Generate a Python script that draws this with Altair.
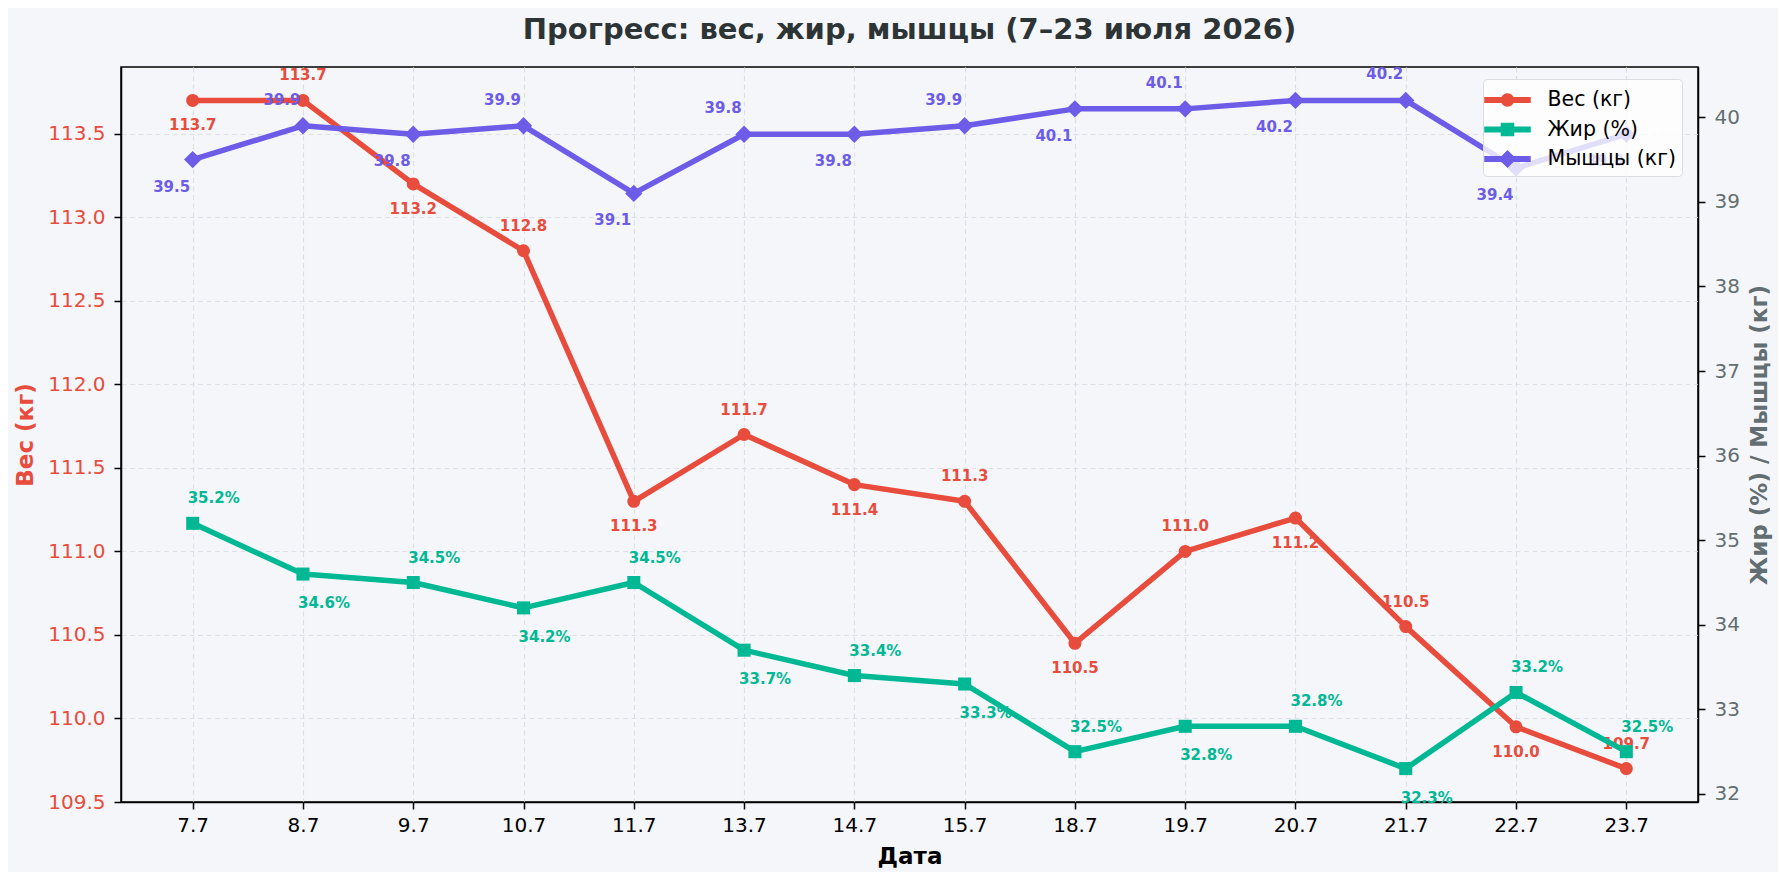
import altair as alt
import pandas as pd

# ---------------- data ----------------
dates = ["7.7", "8.7", "9.7", "10.7", "11.7", "13.7", "14.7", "15.7",
         "18.7", "19.7", "20.7", "21.7", "22.7", "23.7"]
weight = [113.7, 113.7, 113.2, 112.8, 111.3, 111.7, 111.4, 111.3,
          110.45, 111.0, 111.2, 110.55, 109.95, 109.7]
fat = [35.2, 34.6, 34.5, 34.2, 34.5, 33.7, 33.4, 33.3,
       32.5, 32.8, 32.8, 32.3, 33.2, 32.5]
muscle = [39.5, 39.9, 39.8, 39.9, 39.1, 39.8, 39.8, 39.9,
          40.1, 40.1, 40.2, 40.2, 39.4, 39.8]

# label placement (1 = above the point, -1 = below)
weight_side = [-1, 1, -1, 1, -1, 1, -1, 1, -1, 1, -1, 1, -1, 1]
fat_side = [1, -1, 1, -1, 1, -1, 1, -1, 1, -1, 1, -1, 1, 1]
muscle_side = [-1, 1, -1, 1, -1, 1, -1, 1, -1, 1, -1, 1, -1, -1]

series_names = ["Вес (кг)", "Жир (%)", "Мышцы (кг)"]
left_ticks = [109.5, 110.0, 110.5, 111.0, 111.5, 112.0, 112.5, 113.0, 113.5]
right_ticks = [32, 33, 34, 35, 36, 37, 38, 39, 40]

# ---------------- styles ----------------
RED = "#E74C3C"
GREEN = "#00B894"
PURPLE = "#6C5CE7"
BG = "#F5F6FA"
GREY = "#636E72"
FONT = "DejaVu Sans"

# legend symbols: line + marker (unit coordinates)
LINE = "M-1.55,-0.2H1.55V0.2H-1.55Z "
legend_paths = [
    LINE + "M0.45,0A0.45,0.45 0 1,1 -0.45,0A0.45,0.45 0 1,1 0.45,0Z",
    LINE + "M-0.45,-0.45H0.45V0.45H-0.45Z",
    LINE + "M0,-0.6L0.6,0L0,0.6L-0.6,0Z",
]
colors = [RED, GREEN, PURPLE]

series_cfg = [
    dict(name=series_names[0], vals=weight, side=weight_side, color=RED, shape="circle",
         size=170, axis="left", dx=0, dy_up=-25, dy_dn=25, suffix=""),
    dict(name=series_names[1], vals=fat, side=fat_side, color=GREEN, shape="square",
         size=170, axis="right", dx=21, dy_up=-25, dy_dn=29, suffix="%"),
    dict(name=series_names[2], vals=muscle, side=muscle_side, color=PURPLE, shape="diamond",
         size=300, axis="right", dx=-21, dy_up=-26, dy_dn=27, suffix=""),
]

x_enc = alt.X(
    "date:N", sort=dates,
    scale=alt.Scale(type="point", padding=0.65),
    axis=alt.Axis(title="Дата", labelAngle=0, grid=True, titleY=54, labelPadding=6,
                  titleBaseline="middle", titleColor="#000000", labelColor="#000000"),
)

y_left = alt.Y(
    "value:Q",
    scale=alt.Scale(domain=[109.5, 113.9], nice=False, zero=False),
    axis=alt.Axis(orient="left", title="Вес (кг)", values=left_ticks, format=".1f",
                  grid=True, labelColor=RED, titleColor=RED, titleAngle=270,
                  titleX=-95.5, titleY=367.5, titleAlign="center", titleBaseline="middle"),
)
y_right = alt.Y(
    "value:Q",
    scale=alt.Scale(domain=[31.905, 40.595], nice=False, zero=False),
    axis=alt.Axis(orient="right", title="Жир (%) / Мышцы (кг)", values=right_ticks, format="d",
                  grid=False, labelColor=GREY, titleColor=GREY, titleAngle=270,
                  titleX=61.5, titleY=367.5, titleAlign="center", titleBaseline="middle"),
)

legend = alt.Legend(
    title=None, orient="none", legendX=1362, legendY=12, direction="vertical",
    fillColor="rgba(255,255,255,0.8)", strokeColor="#D9DCE1", cornerRadius=4, padding=6,
    symbolSize=900, symbolStrokeWidth=0, symbolOffset=3.5, labelOffset=25,
    labelFontSize=20.5, labelFont=FONT, labelColor="#000000", rowPadding=3.5,
    symbolOpacity=1,
)

left_layers = []
right_layers = []
all_rows = []
for cfg in series_cfg:
    df = pd.DataFrame({
        "date": dates,
        "value": cfg["vals"],
        "side": cfg["side"],
        "series": cfg["name"],
    })
    all_rows.append(df)
    y = y_left if cfg["axis"] == "left" else y_right
    base = alt.Chart(df).transform_calculate(
        label="format(datum.value, '.1f') + '" + cfg["suffix"] + "'"
    )
    line = base.mark_line(color=cfg["color"], strokeWidth=5.5, strokeJoin="round",
                          strokeCap="round").encode(x=x_enc, y=y)
    pts = base.mark_point(filled=True, shape=cfg["shape"], size=cfg["size"],
                          color=cfg["color"], opacity=1).encode(x=x_enc, y=y)
    up = base.transform_filter("datum.side > 0").mark_text(
        color=cfg["color"], fontSize=15, fontWeight="bold", font=FONT,
        dx=cfg["dx"], dy=cfg["dy_up"], baseline="middle", align="center",
    ).encode(x=x_enc, y=y, text="label:N")
    dn = base.transform_filter("datum.side < 0").mark_text(
        color=cfg["color"], fontSize=15, fontWeight="bold", font=FONT,
        dx=cfg["dx"], dy=cfg["dy_dn"], baseline="middle", align="center",
    ).encode(x=x_enc, y=y, text="label:N")
    target = left_layers if cfg["axis"] == "left" else right_layers
    target.extend([line, pts, up, dn])

df_all = pd.concat(all_rows, ignore_index=True)
legend_layer = alt.Chart(df_all).transform_filter("false").mark_point(
    filled=True, opacity=1
).encode(
    x=x_enc, y=y_left,
    color=alt.Color("series:N", scale=alt.Scale(domain=series_names, range=colors), legend=legend),
    shape=alt.Shape("series:N", scale=alt.Scale(domain=series_names, range=legend_paths), legend=legend),
)
left_layers.append(legend_layer)

left = alt.layer(*left_layers)
right = alt.layer(*right_layers)

chart = alt.layer(left, right).resolve_scale(y="independent").properties(
    width=1577, height=735,
    padding={"left": 113, "top": 59, "right": 80, "bottom": 70},
    autosize=alt.AutoSizeParams(type="none"),
    background=BG,
    title=alt.Title(
        "Прогресс: вес, жир, мышцы (7–23 июля 2026)",
        fontSize=29, fontWeight="bold", color="#2D3436", font=FONT,
        anchor="middle", frame="group", offset=22,
    ),
).configure_view(
    stroke="#000000", strokeWidth=1.5,
).configure_axis(
    domainColor="#000000", domainWidth=1.5,
    tickColor="#000000", tickWidth=1.5, tickSize=7,
    labelFont=FONT, labelFontSize=20, labelPadding=9,
    titleFont=FONT, titleFontSize=23, titleFontWeight="bold",
    gridColor="#DDE1E7", gridDash=[5, 3.5], gridWidth=1.2,
)

chart.save("out.html", embed_options={"renderer": "svg", "actions": False})
